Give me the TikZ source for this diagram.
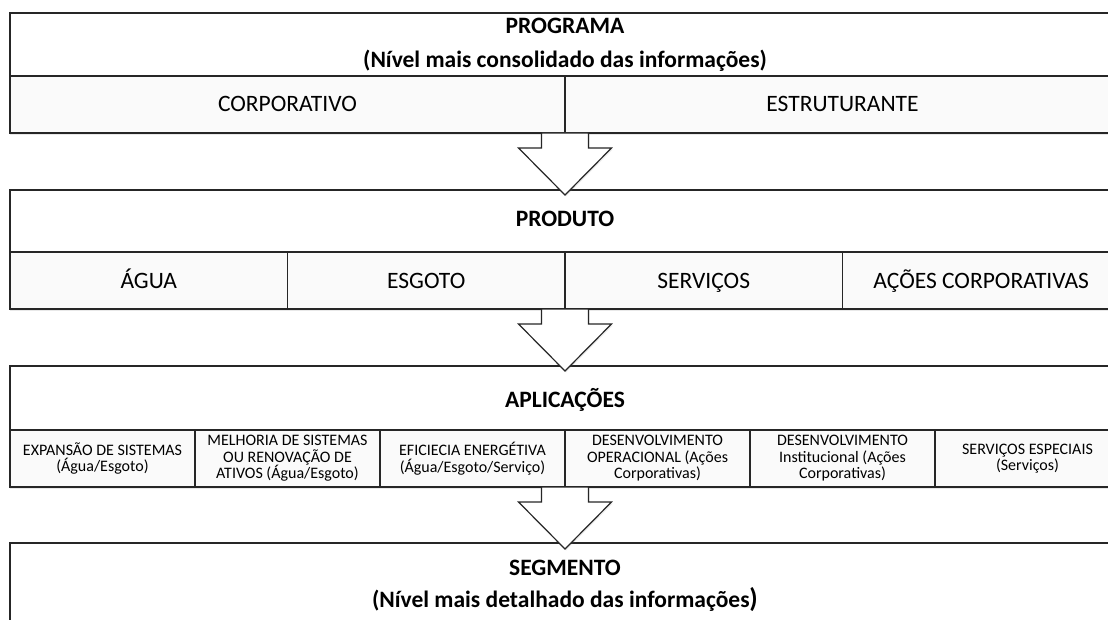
\documentclass[tikz,border=0pt]{standalone}
\usepackage{fontspec}
\setmainfont{Carlito}
\usetikzlibrary{positioning, shadows}

\tikzset{
  lvl/.style={draw=black!85, line width=1.3pt, fill=white, minimum width=1110pt, inner sep=0pt, outer sep=0pt, anchor=north west},
  box/.style={draw=black!85, line width=1.3pt, fill=black!2, minimum height=57pt, inner sep=0pt, outer sep=0pt, drop shadow={opacity=0.18, shadow xshift=0pt, shadow yshift=-2pt}},
  cel/.style={box, font=\fontsize{23.5}{26}\selectfont, text height=15pt, text depth=0pt},
  sml/.style={box, minimum width=185pt, align=center, font=\fontsize{16}{16.5}\selectfont},
  ttl/.style={font=\fontsize{23.5}{26}\selectfont\bfseries, inner sep=0pt, anchor=base},
  blk/.style={draw=black!85, line width=1.2pt, fill=white, drop shadow={opacity=0.15, shadow xshift=1pt, shadow yshift=-1.5pt}},
}

\begin{document}
\begin{tikzpicture}[x=1pt, y=-1pt]
\useasboundingbox (0,0) rectangle (1108,620);

% programa
\node (prog) [lvl, minimum height=63pt] at (10,13) {};
\node (progt) [ttl] at ([yshift=-21pt]prog.north) {PROGRAMA};
\node (progs) [ttl] at ([yshift=-55pt]prog.north) {(Nível mais consolidado das informações)};
\node (c1) [cel, minimum width=555pt, anchor=north west] at (prog.south west) {CORPORATIVO};
\node (c2) [cel, minimum width=555pt, right=0pt of c1] {ESTRUTURANTE};

% produto
\node (prod) [lvl, minimum height=62pt, below=57pt of c1.south west, anchor=north west] {};
\node (prodt) [ttl] at ([yshift=-37pt]prod.north) {PRODUTO};
\node (p1) [cel, minimum width=277.5pt, anchor=north west] at (prod.south west) {ÁGUA};
\node (p2) [cel, minimum width=277.5pt, right=0pt of p1] {ESGOTO};
\node (p3) [cel, minimum width=277.5pt, right=0pt of p2] {SERVIÇOS};
\node (p4) [cel, minimum width=277.5pt, right=0pt of p3] {AÇÕES CORPORATIVAS};

% aplicacoes
\node (apl) [lvl, minimum height=64pt, below=57pt of p1.south west, anchor=north west] {};
\node (aplt) [ttl] at ([yshift=-41pt]apl.north) {APLICAÇÕES};
\node (a1) [sml, anchor=north west] at (apl.south west) {EXPANSÃO DE SISTEMAS\\(Água/Esgoto)};
\node (a2) [sml, right=0pt of a1] {MELHORIA DE SISTEMAS\\OU RENOVAÇÃO DE\\ATIVOS (Água/Esgoto)};
\node (a3) [sml, right=0pt of a2] {EFICIECIA ENERGÉTIVA\\(Água/Esgoto/Serviço)};
\node (a4) [sml, right=0pt of a3] {DESENVOLVIMENTO\\OPERACIONAL (Ações\\Corporativas)};
\node (a5) [sml, right=0pt of a4] {DESENVOLVIMENTO\\Institucional (Ações\\Corporativas)};
\node (a6) [sml, right=0pt of a5] {SERVIÇOS ESPECIAIS\\(Serviços)};

% segmento
\node (seg) [lvl, minimum height=120pt, below=56pt of a1.south west, anchor=north west] {};
\node (segt) [ttl] at ([yshift=-32pt]seg.north) {SEGMENTO};
\node (segs) [ttl] at ([yshift=-64pt]seg.north) {(Nível mais detalhado das informações{\fontsize{27}{27}\selectfont)}};

% setas entre os niveis
\foreach \s in {c1, p2, a3}
  \draw[blk] (\s.south east) ++(-23.5,0) -- ++(0,15) -- ++(-23,0) -- ++(46.5,47) -- ++(46.5,-47) -- ++(-23,0) -- ++(0,-15) -- cycle;
\end{tikzpicture}
\end{document}
